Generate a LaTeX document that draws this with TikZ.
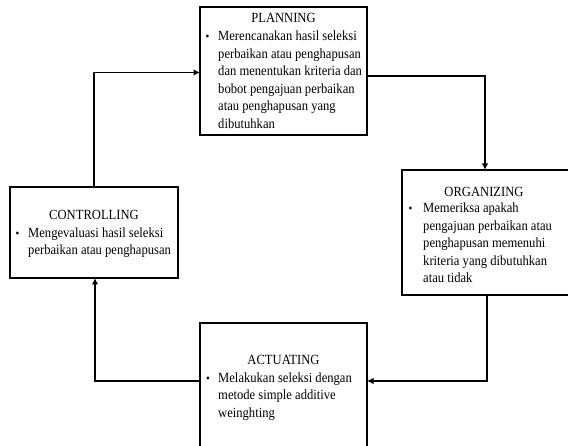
\documentclass[tikz,border=0pt]{standalone}
\usepackage{fontspec}
\setmainfont[FakeStretch=0.9]{Liberation Serif}
\usetikzlibrary{arrows.meta}
\tikzset{
  box/.style={draw, line width=1.5pt},
  conn/.style={line width=1.5pt, -{Latex[length=6.5pt,width=6.5pt]}},
  ttl/.style={anchor=base, inner sep=0pt, font=\fontsize{14}{17.5}\selectfont},
  bul/.style={anchor=base, inner sep=0pt, font=\fontsize{12}{17.5}\selectfont},
  body/.style={anchor=base west, inner sep=0pt},
}
\newcommand{\bodytext}[1]{\parbox[t]{160pt}{\fontsize{14}{17.5}\selectfont\raggedright #1}}
\begin{document}
\begin{tikzpicture}[x=1pt,y=-1pt]
\useasboundingbox (0,0) rectangle (568,446);
\begin{scope}
\clip (0,0) rectangle (568,446);
% boxes
\draw[box] (200,7) rectangle (367,135);
\draw[box] (402,170) rectangle (580,295);
\draw[box] (10,187) rectangle (178,278);
\draw[box] (200,323) rectangle (367,460);
\end{scope}
\coordinate (Pl) at (200,72.5);
\coordinate (Pr) at (367,76);
\coordinate (Ot) at (485,170);
\coordinate (Ob) at (487,295);
\coordinate (Ar) at (367,381);
\coordinate (Al) at (200,381);
\coordinate (Cb) at (95,278);
\coordinate (Ct) at (94,187);
% texts
\node[ttl] (pt) at (283.5,22.5) {PLANNING};
\node[bul] (pb) at (207.5,41) {\textbullet};
\node[body] (pbody) at (218,41) {\bodytext{Merencanakan hasil seleksi\\perbaikan atau penghapusan\\dan menentukan kriteria dan\\bobot pengajuan perbaikan\\atau penghapusan yang\\dibutuhkan}};
\node[ttl] (ot) at (484,196.5) {ORGANIZING};
\node[bul] (ob) at (410.5,213) {\textbullet};
\node[body] (obody) at (423,213) {\bodytext{Memeriksa apakah\\pengajuan perbaikan atau\\penghapusan memenuhi\\kriteria yang dibutuhkan\\atau tidak}};
\node[ttl] (ct) at (94,219.5) {CONTROLLING};
\node[bul] (cb) at (17.5,237.5) {\textbullet};
\node[body] (cbody) at (28,237.5) {\bodytext{Mengevaluasi hasil seleksi\\perbaikan atau penghapusan}};
\node[ttl] (at) at (283.5,364.5) {ACTUATING};
\node[bul] (ab) at (208,382.5) {\textbullet};
\node[body] (abody) at (218,382.5) {\bodytext{Melakukan seleksi dengan\\metode simple additive\\weinghting}};
% connectors
\draw[conn] (Pr) -| (Ot);
\draw[conn] (Ob) |- (Ar);
\draw[conn] (Al) -| (Cb);
\draw[conn] (Ct) |- (Pl);
\end{tikzpicture}
\end{document}
